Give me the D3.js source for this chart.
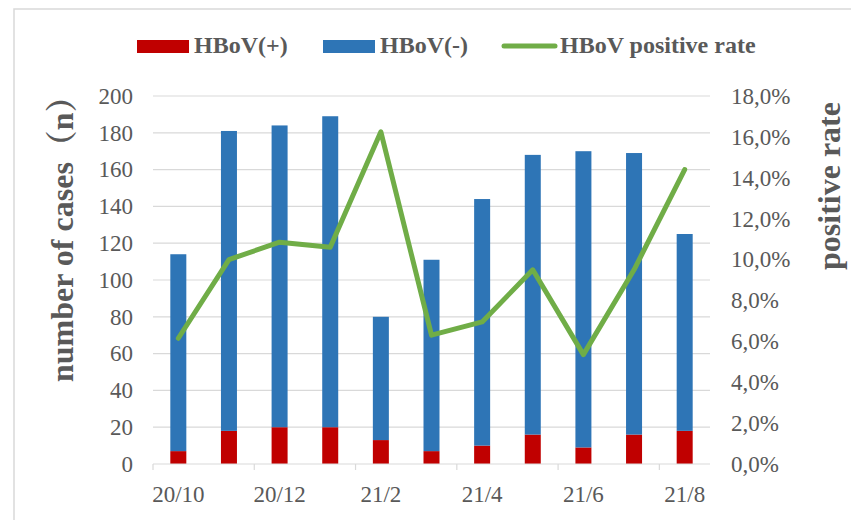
<!DOCTYPE html>
<html>
<head>
<meta charset="utf-8">
<script src="https://cdn.jsdelivr.net/npm/d3@7"></script>
<style>
  html, body { margin: 0; padding: 0; background: #fff; }
  svg text { font-family: "Liberation Serif", "Times New Roman", "Noto Serif CJK SC", "Noto Sans CJK SC", serif; }
</style>
</head>
<body>
<svg id="chart" width="851" height="520"></svg>
<script>
// ---- data ----
const categories = ["20/10","20/11","20/12","21/1","21/2","21/3","21/4","21/5","21/6","21/7","21/8"];
const positive   = [7, 18, 20, 20, 13, 7, 10, 16, 9, 16, 18];
const negative   = [107, 163, 164, 169, 67, 104, 134, 152, 161, 153, 107];
const positiveRate = [6.15, 10.0, 10.85, 10.6, 16.25, 6.3, 6.95, 9.5, 5.35, 9.5, 14.4];
const leftTicks  = [0,20,40,60,80,100,120,140,160,180,200];
const rightTicks = [0,2,4,6,8,10,12,14,16,18];
const xTickLabels = ["20/10","20/12","21/2","21/4","21/6","21/8"];
const seriesNames = ["HBoV(+)", "HBoV(-)", "HBoV positive rate"];
const leftTitle = "number of cases（n）";
const rightTitle = "positive rate";

// ---- styles ----
const C = { pos: "#C00000", neg: "#2E75B6", line: "#70AD47", grid: "#D9D9D9", text: "#595959" };
const FS = 23;
const LFS = 24;
const TFS = 32;

const svg = d3.select("#chart");
svg.append("rect").attr("x", 0).attr("y", 0).attr("width", 851).attr("height", 520).attr("fill", "#fff");
svg.append("rect").attr("x", 14).attr("y", 9).attr("width", 900).attr("height", 600)
   .attr("fill", "none").attr("stroke", C.grid).attr("stroke-width", 1.5);

const L = 153, R = 710, T = 96, B = 464;
const x = d3.scaleBand().domain(categories).range([L, R]).padding(0);
const yL = d3.scaleLinear().domain([0, 200]).range([B, T]);
const yR = d3.scaleLinear().domain([0, 18]).range([B, T]);
const bw = x.bandwidth() * 0.316;

// gridlines
svg.append("g").selectAll("line").data(leftTicks.slice(1)).join("line")
  .attr("x1", L).attr("x2", R).attr("y1", d => yL(d)).attr("y2", d => yL(d))
  .attr("stroke", C.grid).attr("stroke-width", 1.2);

// stacked bars
const rows = categories.map((c, i) => ({ cat: c, pos: positive[i], neg: negative[i] }));
const stack = d3.stack().keys(["pos", "neg"])(rows);
const colors = { pos: C.pos, neg: C.neg };
svg.append("g").selectAll("g").data(stack).join("g")
  .attr("fill", d => colors[d.key])
  .selectAll("rect").data(d => d).join("rect")
  .attr("x", d => x(d.data.cat) + (x.bandwidth() - bw) / 2)
  .attr("width", bw)
  .attr("y", d => yL(d[1]))
  .attr("height", d => yL(d[0]) - yL(d[1]));

// x axis line and tick marks
svg.append("line").attr("x1", L).attr("x2", R).attr("y1", B).attr("y2", B)
  .attr("stroke", C.grid).attr("stroke-width", 1.2);
const tickIdx = categories.map((c, i) => i).filter(i => i % 2 === 0);
svg.append("g").selectAll("line").data(tickIdx).join("line")
  .attr("x1", i => x(categories[i])).attr("x2", i => x(categories[i]))
  .attr("y1", B).attr("y2", B + 6).attr("stroke", C.grid).attr("stroke-width", 1.2);

// line
const line = d3.line().x((d, i) => x(categories[i]) + x.bandwidth() / 2).y(d => yR(d));
svg.append("path").datum(positiveRate).attr("d", line)
  .attr("fill", "none").attr("stroke", C.line).attr("stroke-width", 5)
  .attr("stroke-linejoin", "round").attr("stroke-linecap", "round");

// axes
function styleAxis(g) {
  g.select(".domain").remove();
  g.selectAll(".tick line").remove();
  g.selectAll("text").attr("fill", C.text).style("font-size", FS + "px");
}
svg.append("g").attr("transform", `translate(${L},0)`)
  .call(d3.axisLeft(yL).tickValues(leftTicks).tickSize(0).tickPadding(20))
  .call(styleAxis);
const comma = d3.formatLocale({ decimal: ",", thousands: ".", grouping: [3], currency: ["", ""] });
svg.append("g").attr("transform", `translate(${R},0)`)
  .call(d3.axisRight(yR).tickValues(rightTicks).tickSize(0).tickPadding(21)
    .tickFormat(d => comma.format(".1f")(d) + "%"))
  .call(styleAxis);
svg.append("g").attr("transform", `translate(0,${B})`)
  .call(d3.axisBottom(x).tickValues(xTickLabels).tickSize(0).tickPadding(22))
  .call(styleAxis);

// axis titles
svg.append("text").attr("transform", "translate(73,382) rotate(-90)")
  .attr("text-anchor", "start").attr("fill", C.text)
  .style("font-size", TFS + "px").style("font-weight", "bold").text(leftTitle);
svg.append("text").attr("transform", "translate(840,270) rotate(-90)")
  .attr("text-anchor", "start").attr("fill", C.text)
  .style("font-size", TFS + "px").style("font-weight", "bold").text(rightTitle);

// legend
const lg = svg.append("g");
const legendItems = [
  { name: seriesNames[0], type: "rect", color: C.pos, x: 137 },
  { name: seriesNames[1], type: "rect", color: C.neg, x: 323 },
  { name: seriesNames[2], type: "line", color: C.line, x: 502 }
];
legendItems.forEach(it => {
  if (it.type === "rect") {
    lg.append("rect").attr("x", it.x).attr("y", 40).attr("width", 52).attr("height", 13).attr("fill", it.color);
    lg.append("text").attr("x", it.x + 57).attr("y", 53).attr("fill", C.text)
      .style("font-size", LFS + "px").style("font-weight", "bold").text(it.name);
  } else {
    lg.append("line").attr("x1", it.x + 2).attr("x2", it.x + 53).attr("y1", 46).attr("y2", 46)
      .attr("stroke", it.color).attr("stroke-width", 5).attr("stroke-linecap", "round");
    lg.append("text").attr("x", it.x + 58).attr("y", 53).attr("fill", C.text)
      .style("font-size", LFS + "px").style("font-weight", "bold").text(it.name);
  }
});
</script>
</body>
</html>
